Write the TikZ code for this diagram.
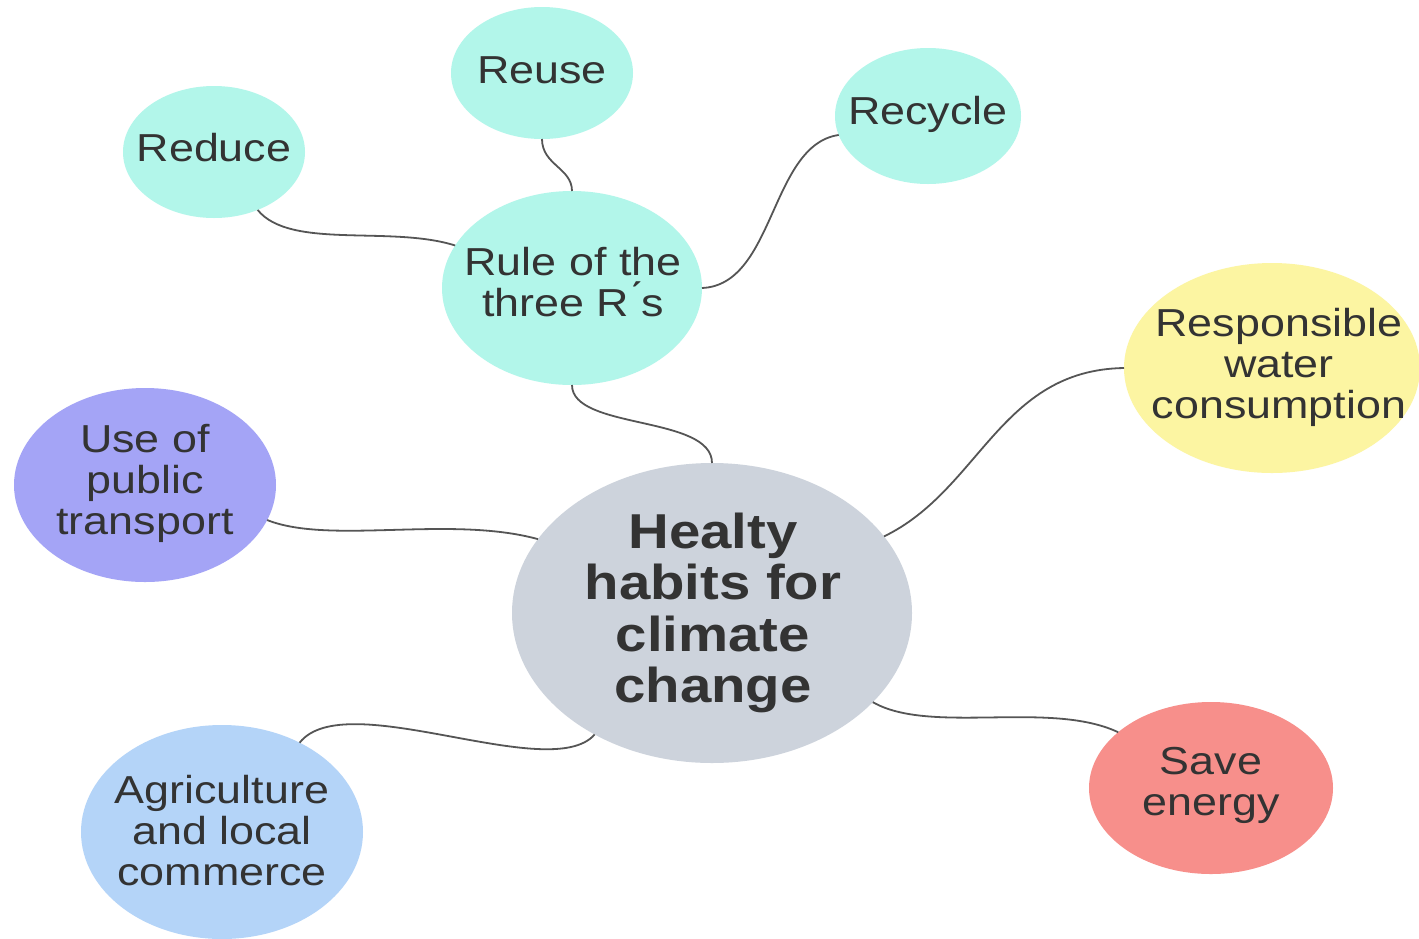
\documentclass[tikz,border=0pt]{standalone}
\usepackage{fontspec}
\setmainfont{Liberation Sans}[FakeStretch=1.15]
\usetikzlibrary{shapes.geometric}
\definecolor{teal}{HTML}{B2F6EA}
\definecolor{yel}{HTML}{FCF5A2}
\definecolor{purp}{HTML}{A4A4F6}
\definecolor{lblue}{HTML}{B4D4F8}
\definecolor{salmon}{HTML}{F78F8B}
\definecolor{greyc}{HTML}{CDD3DC}
\definecolor{txtc}{HTML}{333333}
\definecolor{linec}{HTML}{555555}
\tikzset{
  bubble/.style={ellipse, draw=none, inner sep=0pt, outer sep=0pt},
  txt/.style={align=center, text=txtc, inner sep=0pt, font=\fontsize{39}{41}\selectfont},
  bigtxt/.style={align=center, text=txtc, inner sep=0pt, font=\fontsize{49}{51.5}\selectfont\bfseries},
  conn/.style={draw=linec, line width=1.8pt}
}
\begin{document}
\begin{tikzpicture}[x=1pt,y=-1pt]
\useasboundingbox (0,0) rectangle (1419,938);
\clip (0,0) rectangle (1419,938);
\fill[white] (0,0) rectangle (1419,938);
% bubbles
\node[bubble, fill=teal, minimum width=182pt, minimum height=132pt] (reduce) at (214,152) {};
\node[bubble, fill=teal, minimum width=182pt, minimum height=132pt] (reuse) at (542,73) {};
\node[bubble, fill=teal, minimum width=186pt, minimum height=136pt] (recycle) at (928,116) {};
\node[bubble, fill=teal, minimum width=260pt, minimum height=194pt] (rule) at (572,288) {};
\node[bubble, fill=yel, minimum width=296pt, minimum height=210pt] (resp) at (1272,368) {};
\node[bubble, fill=purp, minimum width=262pt, minimum height=194pt] (public) at (145,485) {};
\node[bubble, fill=greyc, minimum width=400pt, minimum height=300pt] (central) at (712,613) {};
\node[bubble, fill=lblue, minimum width=282pt, minimum height=214pt] (agri) at (222,832) {};
\node[bubble, fill=salmon, minimum width=244pt, minimum height=172pt] (save) at (1211,788) {};
% texts
\node[txt] (treduce) at (214,148) {Reduce};
\node[txt] (treuse) at (542,70) {Reuse};
\node[txt] (trecycle) at (928,114) {Recycle};
\node[txt] (trule) at (573,282) {Rule of the\\three R\'{}s};
\node[txt] (tresp) at (1279,367) {Responsible\\water\\consumption};
\node[txt] (tpublic) at (145,483) {Use of\\public\\transport};
\node[bigtxt] (tcentral) at (713,613) {Healty\\habits for\\climate\\change};
\node[txt] (tagri) at (222,831) {Agriculture\\and local\\commerce};
\node[txt] (tsave) at (1211,785) {Save\\energy};
% connectors
\draw[conn] (reduce.-53) .. controls (290,250) and (390,225) .. (rule.160);
\draw[conn] (reuse.-90) .. controls (542,165) and (572,168) .. (rule.90);
\draw[conn] (rule.0) .. controls (775,285) and (770,145) .. (recycle.-168);
\draw[conn] (rule.-90) .. controls (572,430) and (712,415) .. (central.90);
\draw[conn] (central.24.5) .. controls (980,490) and (1000,370) .. (resp.180);
\draw[conn] (public.-16.7) .. controls (330,545) and (450,515) .. (central.157);
\draw[conn] (central.-134.8) .. controls (550,785) and (345,685) .. (agri.49.4);
\draw[conn] (central.-29.2) .. controls (930,735) and (1050,700) .. (save.149);
\end{tikzpicture}
\end{document}
